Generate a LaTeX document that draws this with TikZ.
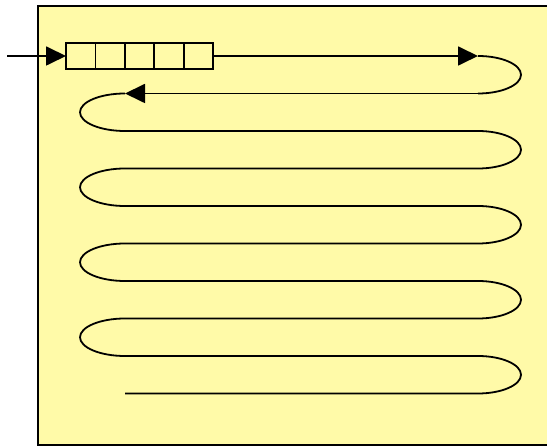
\documentclass[tikz,border=0pt]{standalone}
\usetikzlibrary{arrows.meta}
\definecolor{paleyellow}{RGB}{255,250,168}
\tikzset{
  wire/.style={line width=1.8pt, line join=round},
  tip/.style={wire, -{Triangle[length=20pt,width=19pt]}},
  cell/.style={draw, line width=1.8pt, minimum width=29.4pt, minimum height=26pt, inner sep=0pt, outer sep=0pt, anchor=west},
  frame/.style={draw, line width=2pt, fill=paleyellow}
}
\begin{document}
\begin{tikzpicture}[x=1pt,y=1pt]
\useasboundingbox (0,0) rectangle (547,447);
\clip (0,0) rectangle (547,447);
\node[frame, minimum width=520pt, minimum height=439pt, inner sep=0pt, anchor=north west] (box) at (37,442) {};
% queue cells
\node[cell] (q1) at (66,391) {};
\node[cell] (q2) at (q1.east) {};
\node[cell] (q3) at (q2.east) {};
\node[cell] (q4) at (q3.east) {};
\node[cell] (q5) at (q4.east) {};
\coordinate (in) at (7,391);
\coordinate (r1) at (478,391);
\coordinate (r2) at (478,353.5);
\coordinate (l2) at (125,353.5);
\draw[tip] (in) -- (q1.west);
\draw[tip] (q5.east) -- (r1);
\draw[wire] (r1) arc[start angle=90, end angle=-90, x radius=43, y radius=18.75];
\draw[tip] (r2) -- (l2);
\draw[wire] (l2)
  arc[start angle=90, end angle=270, x radius=45, y radius=18.75] -- ++(353,0)
  arc[start angle=90, end angle=-90, x radius=43, y radius=18.75] -- ++(-353,0)
  arc[start angle=90, end angle=270, x radius=45, y radius=18.75] -- ++(353,0)
  arc[start angle=90, end angle=-90, x radius=43, y radius=18.75] -- ++(-353,0)
  arc[start angle=90, end angle=270, x radius=45, y radius=18.75] -- ++(353,0)
  arc[start angle=90, end angle=-90, x radius=43, y radius=18.75] -- ++(-353,0)
  arc[start angle=90, end angle=270, x radius=45, y radius=18.75] -- ++(353,0)
  arc[start angle=90, end angle=-90, x radius=43, y radius=18.75] -- ++(-353,0);
\end{tikzpicture}
\end{document}
